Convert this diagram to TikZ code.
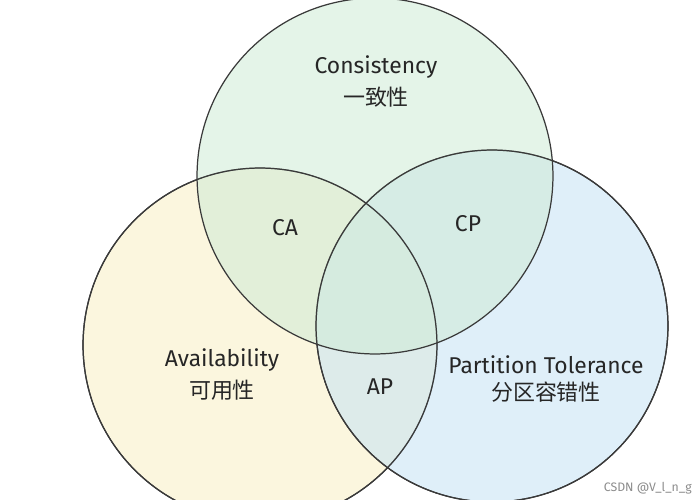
\documentclass[tikz,border=0pt]{standalone}
\usepackage{fontspec}
\setmainfont{Fira Sans}
\newfontfamily\cjk{Noto Sans CJK SC}
\definecolor{cg}{HTML}{CFEBD6}
\definecolor{cy}{HTML}{F8EFC4}
\definecolor{cb}{HTML}{C6E2F5}
\definecolor{edge}{HTML}{3A3A3A}
\begin{document}
\begin{tikzpicture}[x=0.02cm,y=0.02cm,
  setc/.style={draw=edge,line width=0.7pt,fill opacity=0.55},
  lab/.style={font=\fontsize{13}{15}\selectfont,text=black!85},
  clab/.style={font=\cjk\fontsize{12.5}{15}\selectfont,text=black!85}]
\useasboundingbox (0,0) rectangle (698,-500);
\clip (0,0) rectangle (698,-500);
\fill[white] (0,0) rectangle (698,-500);
\draw[setc,fill=cy] (260,-345) circle [radius=3.54cm];
\draw[setc,fill=cb] (492,-326) circle [radius=3.52cm];
\draw[setc,fill=cg] (375,-176) circle [radius=3.56cm];
\draw[edge,line width=0.7pt] (260,-345) circle [radius=3.54cm];
\draw[edge,line width=0.7pt] (492,-326) circle [radius=3.52cm];
\node[lab] (c) at (376,-67) {Consistency};
\node[clab] (c2) at (376,-97) {一致性};
\node[lab] (ca) at (285,-228) {CA};
\node[lab] (cp) at (468,-224) {CP};
\node[lab] (a) at (222,-360) {Availability};
\node[clab] (a2) at (222,-390) {可用性};
\node[lab] (ap) at (380,-387) {AP};
\node[lab] (p) at (546,-365) {Partition Tolerance};
\node[clab] (p2) at (546,-392) {分区容错性};
\node[font=\fontsize{7}{8}\selectfont,text=black!45,anchor=east] (w) at (698,-488) {CSDN @V\_l\_n\_g};
\end{tikzpicture}
\end{document}
